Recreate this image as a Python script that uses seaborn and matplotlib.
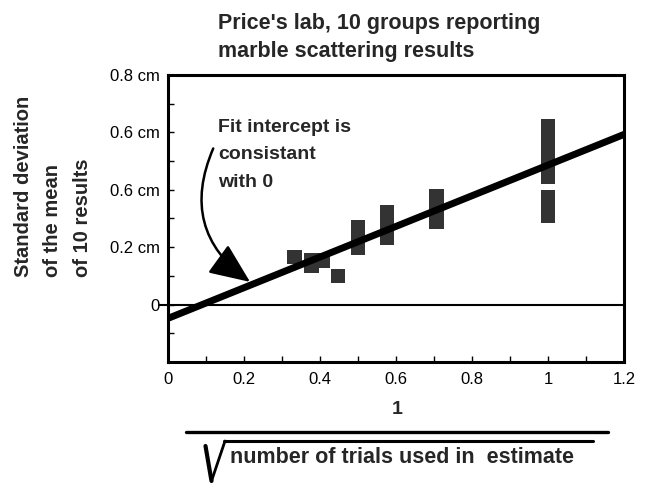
import matplotlib
matplotlib.use("Agg")
import numpy as np
import pandas as pd
import matplotlib.pyplot as plt
import seaborn as sns
from matplotlib.lines import Line2D
from matplotlib.ticker import MultipleLocator

# one entry per group: 1/sqrt(N) and the low / high end of its bar (cm)
inv_sqrt_n = [0.333, 0.378, 0.408, 0.447, 0.500, 0.577, 0.707, 1.0, 1.0, 1.0]
sd_low = [0.142, 0.111, 0.129, 0.075, 0.172, 0.207, 0.262, 0.468, 0.420, 0.285]
sd_high = [0.191, 0.180, 0.180, 0.123, 0.294, 0.346, 0.402, 0.648, 0.468, 0.398]

# straight-line fit as drawn
fit_x = [0.0, 1.2]
fit_y = [-0.048, 0.593]

x_ticks = [0, 0.2, 0.4, 0.6, 0.8, 1.0, 1.2]
x_tick_labels = ["0", "0.2", "0.4", "0.6", "0.8", "1", "1.2"]
y_ticks = [0.0, 0.2, 0.4, 0.6, 0.8]
y_tick_labels = ["0", "0.2 cm", "0.6 cm", "0.6 cm", "0.8 cm"]

groups = pd.DataFrame({"x": inv_sqrt_n, "low": sd_low, "high": sd_high})

sns.set_style("white")
plt.rcParams["font.family"] = ["Liberation Sans", "DejaVu Sans"]

W, H = 661, 490
fig = plt.figure(figsize=(W / 100, H / 100), dpi=100)
ax = fig.add_axes([168 / W, 128 / H, 456 / W, 287 / H])

# bars for each group's spread
ax.bar(groups["x"], groups["high"] - groups["low"], bottom=groups["low"],
       width=0.038, color="#333333", linewidth=0, zorder=2)

# fit line
sns.lineplot(x=fit_x, y=fit_y, ax=ax, color="black", linewidth=5, zorder=3)

# zero reference line, pokes a little out to the left
ax.axhline(0, xmin=-0.02, xmax=1, color="black", linewidth=1.5, clip_on=False, zorder=1)

ax.set_xlim(0, 1.2)
ax.set_ylim(-0.2, 0.8)
ax.set_xticks(x_ticks)
ax.set_xticklabels(x_tick_labels)
ax.set_yticks(y_ticks)
ax.set_yticklabels(y_tick_labels)
ax.xaxis.set_minor_locator(MultipleLocator(0.1))
ax.yaxis.set_minor_locator(MultipleLocator(0.1))
ax.tick_params(which="both", direction="in", length=4, width=1,
               top=False, right=False, bottom=True, left=True, colors="black")
ax.tick_params(axis="x", pad=7)
ax.tick_params(axis="y", pad=6)
for lab in ax.get_xticklabels() + ax.get_yticklabels():
    lab.set_fontfamily(["Liberation Sans Narrow", "Liberation Sans"])
    lab.set_fontsize(12)
for sp in ax.spines.values():
    sp.set_linewidth(2.2)
    sp.set_color("black")

# annotation
ax.text(0.132, 0.648, "Fit intercept is\nconsistant\nwith 0", fontsize=14,
        fontweight="bold", ha="left", va="top", linespacing=1.82)
ax.annotate("", xy=(0.216, 0.079), xytext=(0.119, 0.544),
            arrowprops=dict(arrowstyle="-|>,head_length=1.4,head_width=0.6",
                            connectionstyle="arc3,rad=0.4", color="black",
                            lw=1.8, mutation_scale=18, shrinkA=0, shrinkB=0))

# title
fig.text(218 / W, 1 - 13 / H, "Price's lab, 10 groups reporting\nmarble scattering results",
         ha="left", va="top", fontsize=15.5, fontweight="bold", linespacing=1.42)

# y label
fig.text(53 / W, 1 - 277 / H, "Standard deviation\nof the mean\nof 10 results",
         rotation=90, ha="center", va="bottom", multialignment="left",
         fontsize=14.5, fontweight="bold", linespacing=1.7)

# x label as a fraction 1 / sqrt(N)
fig.text(397 / W, 1 - 409 / H, "1", ha="center", va="center", fontsize=14, fontweight="bold")
fig.add_artist(Line2D([186 / W, 608 / W], [1 - 432 / H] * 2, lw=2.4, color="black"))
fig.add_artist(Line2D([224 / W, 593 / W], [1 - 441 / H] * 2, lw=2.2, color="black"))
fig.add_artist(Line2D([205.5 / W, 211.5 / W], [1 - 446 / H, 1 - 481 / H], lw=3, color="black"))
fig.add_artist(Line2D([211.5 / W, 225 / W], [1 - 481 / H, 1 - 441 / H], lw=2, color="black"))
fig.text(230 / W, 1 - 457 / H, "number of trials used in  estimate", ha="left", va="center",
         fontsize=15.5, fontweight="bold")

fig.savefig("out.png", dpi=100)
